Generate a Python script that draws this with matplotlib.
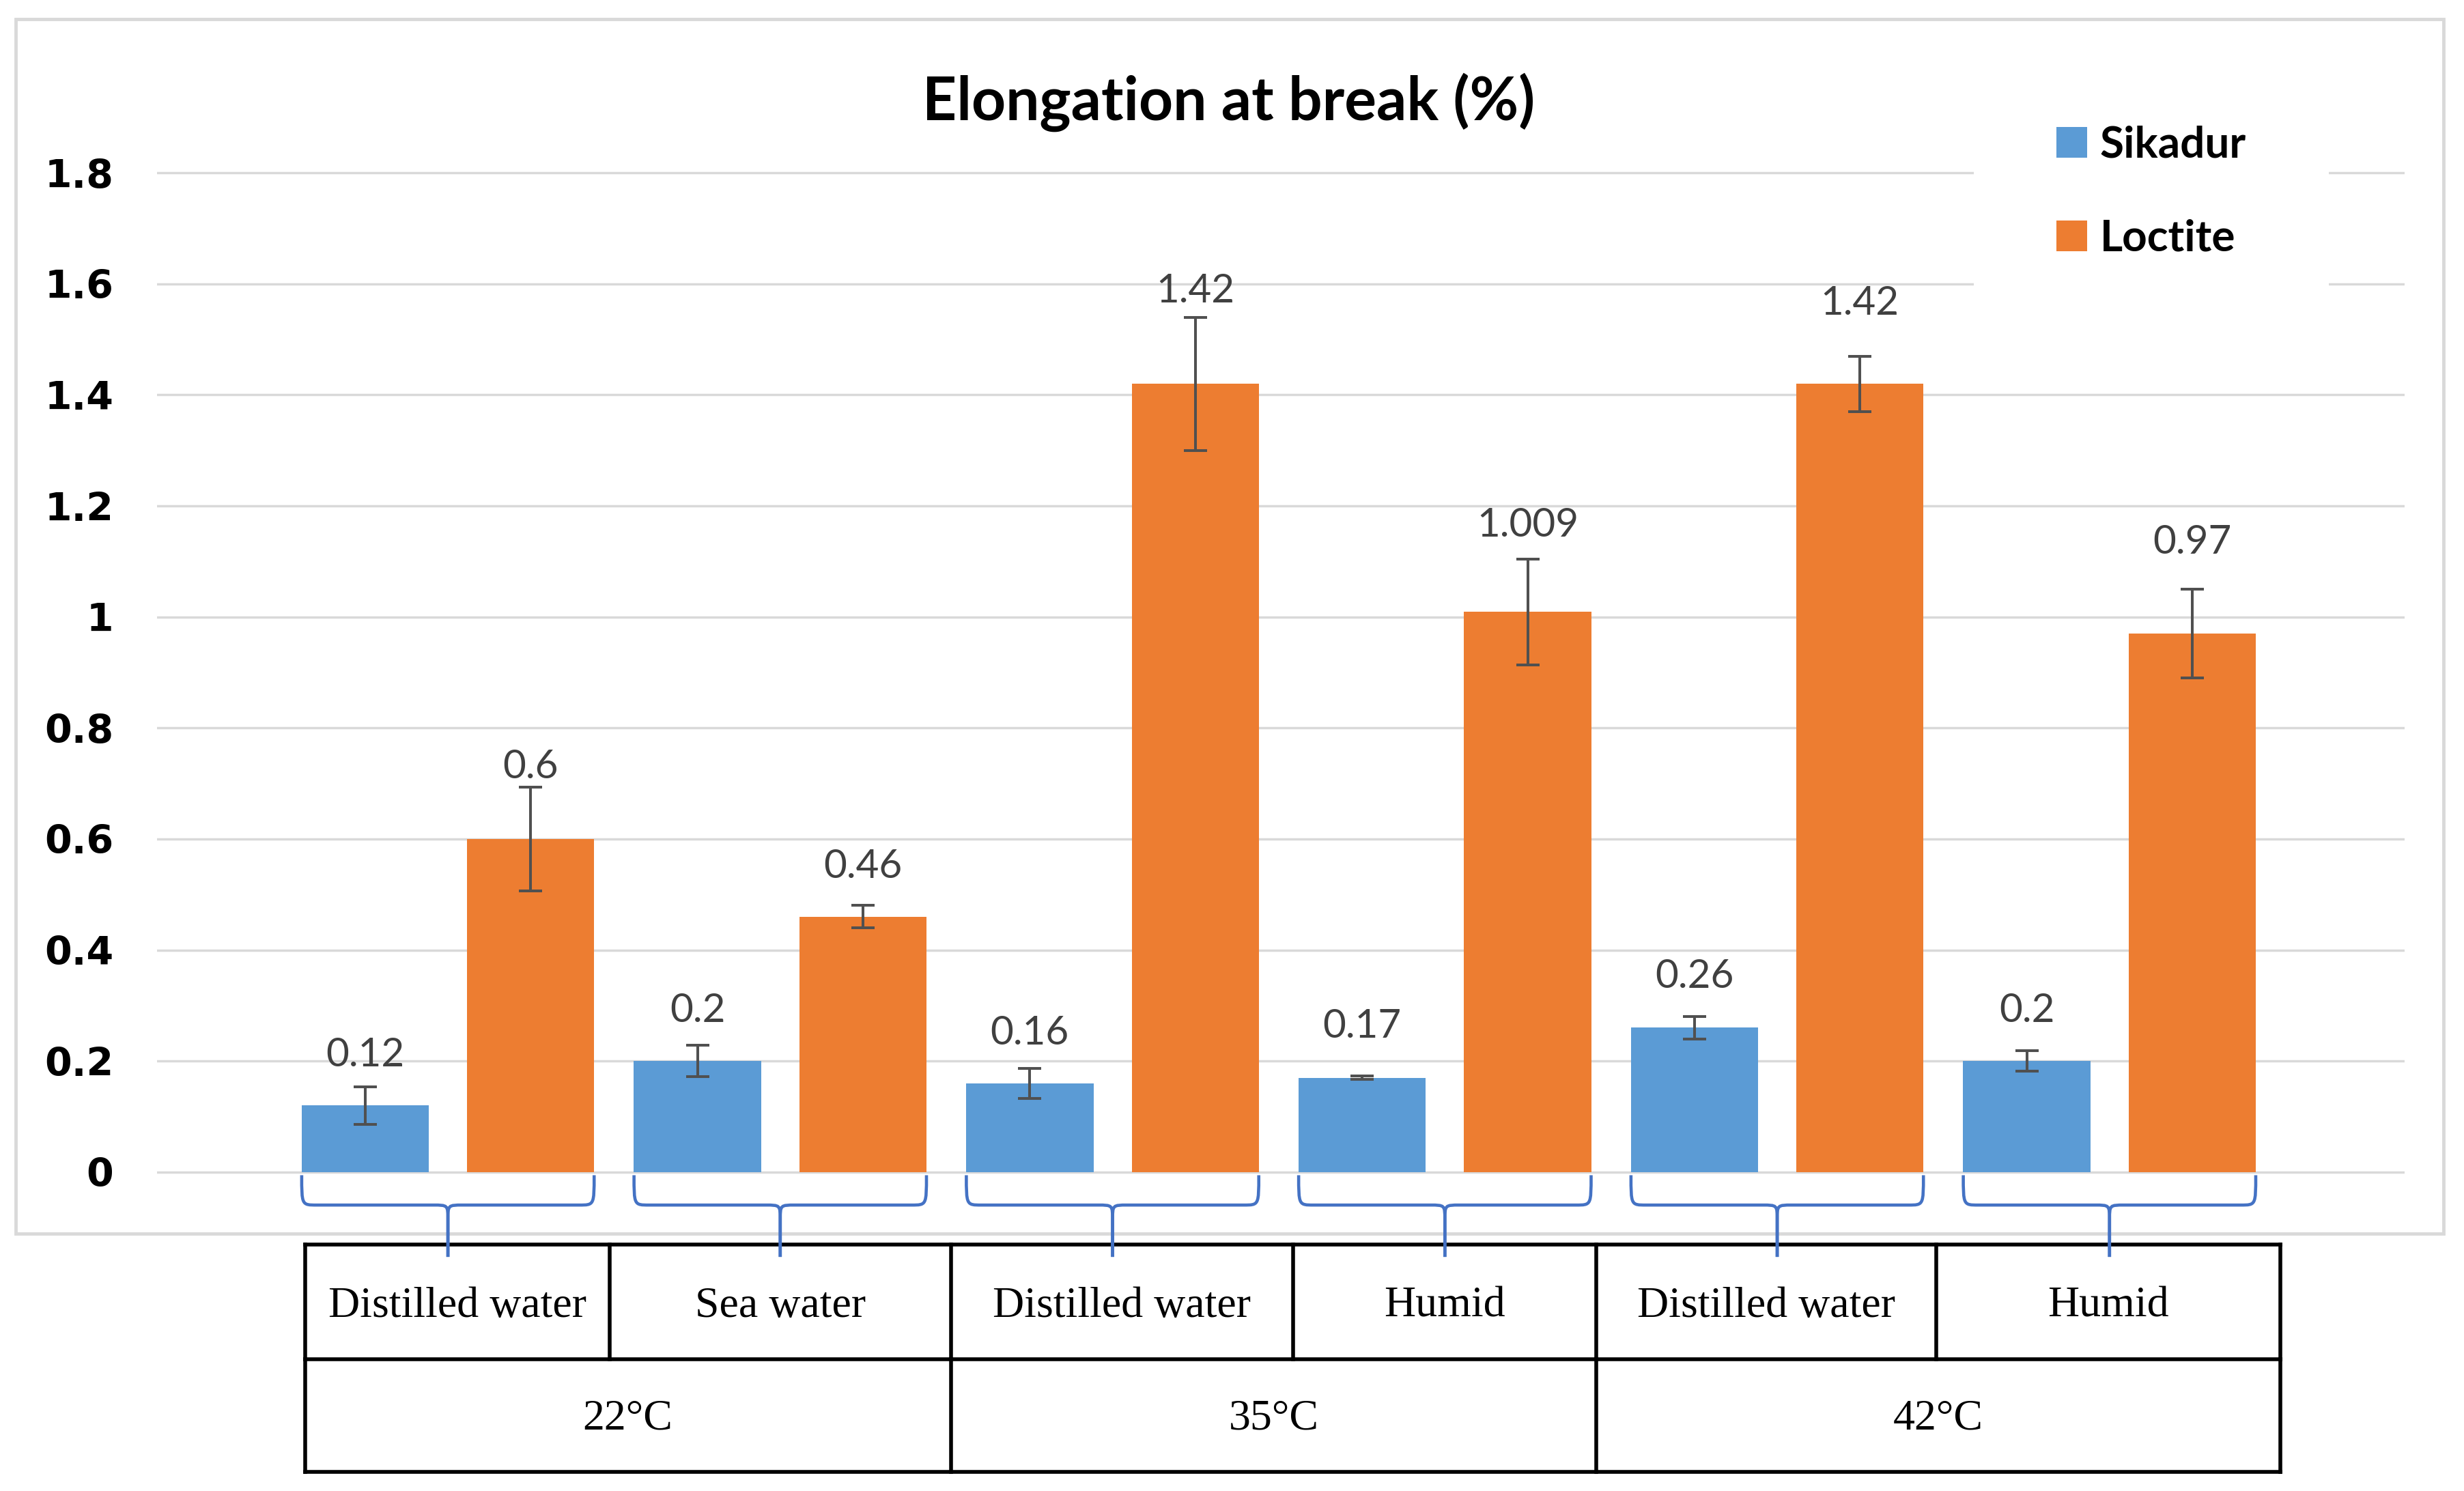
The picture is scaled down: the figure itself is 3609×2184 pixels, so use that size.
import matplotlib
matplotlib.use("Agg")
import matplotlib.pyplot as plt
import matplotlib.transforms as mtransforms
from matplotlib.path import Path
from matplotlib.patches import PathPatch, Rectangle
import numpy as np

# data
conditions = ["Distilled water", "Sea water", "Distilled water", "Humid", "Distilled water", "Humid"]
temperatures = ["22°C", "35°C", "42°C"]
temp_span = [2, 2, 2]

sikadur = [0.12, 0.2, 0.16, 0.17, 0.26, 0.2]
sikadur_err = [0.034, 0.028, 0.027, 0.003, 0.02, 0.018]
loctite = [0.6, 0.46, 1.42, 1.009, 1.42, 0.97]
loctite_err = [0.093, 0.02, 0.12, 0.095, 0.05, 0.08]
sikadur_lbl = ["0.12", "0.2", "0.16", "0.17", "0.26", "0.2"]
loctite_lbl = ["0.6", "0.46", "1.42", "1.009", "1.42", "0.97"]

# label lift above bar top (points)
sik_lift = [53, 53, 53, 54, 54, 53]
loc_lift = [76, 53, 98, 91, 85, 96]

W, H = 1568.0, 949.0
def fx(x):
    return x / W
def fy(y):
    return 1 - y / H

fig = plt.figure(figsize=(36.09, 21.84), dpi=100)

# outer chart frame
fig.patches.append(Rectangle((fx(10), fy(785)), fx(1555) - fx(10), fy(12) - fy(785),
                             transform=fig.transFigure, fill=False,
                             edgecolor="#d9d9d9", lw=3.5))

ax = fig.add_axes([fx(100), fy(749.5), fx(1530) - fx(100), fy(106.5) - fy(749.5)])
x = np.arange(len(conditions))
w = 0.383
off = 0.249

ax.bar(x - off, sikadur, w, color="#5B9BD5", label="Sikadur", zorder=2)
ax.bar(x + off, loctite, w, color="#ED7D31", label="Loctite", zorder=2)
ax.errorbar(x - off, sikadur, yerr=sikadur_err, fmt="none", ecolor="#505050",
            elinewidth=2.9, capsize=12, capthick=2.9, zorder=3)
ax.errorbar(x + off, loctite, yerr=loctite_err, fmt="none", ecolor="#505050",
            elinewidth=2.9, capsize=12, capthick=2.9, zorder=3)

for i in range(len(x)):
    ax.annotate(sikadur_lbl[i], (x[i] - off, sikadur[i]), xytext=(0, sik_lift[i]),
                textcoords="offset points", ha="center", va="center",
                fontsize=42, family="Lato", color="#404040")
    ax.annotate(loctite_lbl[i], (x[i] + off, loctite[i]), xytext=(0, loc_lift[i]),
                textcoords="offset points", ha="center", va="center",
                fontsize=42, family="Lato", color="#404040")

ax.set_xlim(-0.875, 5.887)
ax.set_ylim(-0.01, 1.81)
ax.set_yticks(np.arange(0, 1.81, 0.2))
ax.set_yticklabels(["0", "0.2", "0.4", "0.6", "0.8", "1", "1.2", "1.4", "1.6", "1.8"])
ax.set_xticks([])
ax.tick_params(axis="y", length=0, pad=46, labelsize=41)
for t in ax.get_yticklabels():
    t.set_fontweight("bold")
    t.set_family("DejaVu Sans")
ax.yaxis.grid(True, color="#d9d9d9", lw=2.5)
ax.set_axisbelow(True)
for s in ax.spines.values():
    s.set_visible(False)
ax.patch.set_alpha(0)

fig.text(fx(782), fy(65), "Elongation at break (%)", ha="center", va="center",
         fontsize=63, fontweight="bold", family="Lato")

leg = fig.legend(loc="center", bbox_to_anchor=(fx(1369), fy(122)),
                 prop={"family": "Lato", "weight": "bold", "size": 46},
                 frameon=True, facecolor="white", edgecolor="none", framealpha=1,
                 handlelength=0.7, handleheight=0.7, handletextpad=0.3,
                 labelspacing=1.25, borderpad=1.9, fancybox=False)

# braces under each group
blend = mtransforms.blended_transform_factory(ax.transData, fig.transFigure)
ytop, yh, ytip = fy(748), fy(767), fy(800)
rx = 0.045
for i in range(len(x)):
    x0, x1, xc = i - 0.44, i + 0.44, i
    for a, sgn in ((x0, 1), (x1, -1)):
        verts = [(a, ytop), (a, yh), (a, yh), (a + sgn * rx, yh),
                 (xc - sgn * rx, yh), (xc, yh), (xc, yh), (xc, yh - 0.01),
                 (xc, ytip)]
        codes = [Path.MOVETO, Path.CURVE4, Path.CURVE4, Path.CURVE4,
                 Path.LINETO, Path.CURVE4, Path.CURVE4, Path.CURVE4, Path.LINETO]
        fig.patches.append(PathPatch(Path(verts, codes), transform=blend, fill=False,
                                     edgecolor="#4472C4", lw=3.3, zorder=5))

# table below the chart
col_x = [194, 388, 605, 823, 1016, 1232, 1451]
row_y = [792, 865, 937]
lk = dict(color="black", lw=4, transform=fig.transFigure, solid_capstyle="projecting")
for yy in row_y:
    fig.add_artist(plt.Line2D([fx(col_x[0]), fx(col_x[-1])], [fy(yy), fy(yy)], **lk))
for xx in col_x:
    fig.add_artist(plt.Line2D([fx(xx), fx(xx)], [fy(row_y[0]), fy(row_y[1])], **lk))
k = 0
temp_edges = [0]
for n in temp_span:
    k += n
    temp_edges.append(k)
for e in temp_edges:
    xx = col_x[e]
    fig.add_artist(plt.Line2D([fx(xx), fx(xx)], [fy(row_y[1]), fy(row_y[2])], **lk))

for j, name in enumerate(conditions):
    fig.text(fx((col_x[j] + col_x[j + 1]) / 2), fy((row_y[0] + row_y[1]) / 2 + 3), name,
             ha="center", va="center", fontsize=46, family="Liberation Serif")
for j, name in enumerate(temperatures):
    a, b = col_x[temp_edges[j]], col_x[temp_edges[j + 1]]
    fig.text(fx((a + b) / 2), fy((row_y[1] + row_y[2]) / 2 + 2), name,
             ha="center", va="center", fontsize=46, family="Liberation Serif")

fig.savefig("out.png", dpi=100, facecolor="white")
